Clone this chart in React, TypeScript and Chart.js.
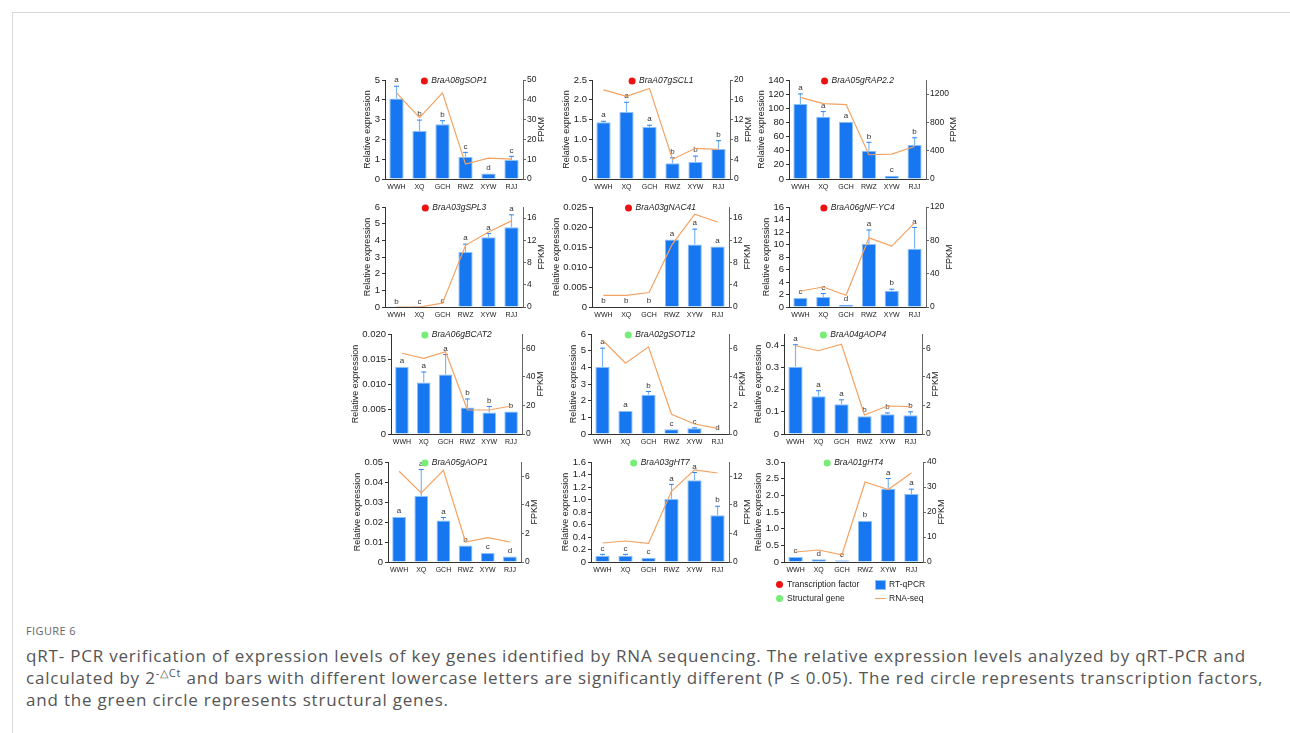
import React, { useEffect, useRef } from "react";
import { Chart, registerables } from "chart.js";
Chart.register(...registerables);

// ---------- data ----------
const categories = ["WWH", "XQ", "GCH", "RWZ", "XYW", "RJJ"];
const geneNames = [
  "BraA08gSOP1", "BraA07gSCL1", "BraA05gRAP2.2",
  "BraA03gSPL3", "BraA03gNAC41", "BraA06gNF-YC4",
  "BraA06gBCAT2", "BraA02gSOT12", "BraA04gAOP4",
  "BraA05gAOP1", "BraA03gHT7", "BraA01gHT4",
];
const geneTypes = ["tf", "tf", "tf", "tf", "tf", "tf", "sg", "sg", "sg", "sg", "sg", "sg"];

const qpcrMeans = [
  [4.07, 2.42, 2.76, 1.12, 0.28, 0.96],
  [1.43, 1.69, 1.31, 0.4, 0.43, 0.76],
  [106, 88, 81, 40, 4.7, 48],
  [0.01, 0.005, 0.02, 3.3, 4.18, 4.78],
  [0.0001, 0.0001, 0.0001, 0.0169, 0.0156, 0.0151],
  [1.44, 1.6, 0.37, 10.08, 2.6, 9.33],
  [0.0134, 0.0103, 0.0119, 0.0053, 0.0043, 0.0045],
  [4.02, 1.38, 2.36, 0.28, 0.34, 0.02],
  [0.303, 0.17, 0.134, 0.08, 0.089, 0.084],
  [0.0225, 0.033, 0.0208, 0.0083, 0.0045, 0.0028],
  [0.1, 0.1, 0.07, 1.01, 1.31, 0.75],
  [0.15, 0.08, 0.05, 1.23, 2.2, 2.04],
];
const qpcrErrorTops = [
  [4.71, 3.0, 2.97, 1.37, 0.31, 1.17],
  [1.47, 1.95, 1.37, 0.55, 0.59, 0.98],
  [121, 96, 82, 52.6, 4.7, 59],
  [0.01, 0.005, 0.02, 3.8, 4.44, 5.56],
  [0.0001, 0.0001, 0.0001, 0.0169, 0.0196, 0.0152],
  [1.5, 2.24, 0.4, 12.4, 2.93, 12.8],
  [0.0135, 0.0125, 0.016, 0.0071, 0.0056, 0.0046],
  [5.18, 1.44, 2.58, 0.28, 0.4, 0.02],
  [0.404, 0.197, 0.156, 0.082, 0.097, 0.102],
  [0.0227, 0.0465, 0.0225, 0.0085, 0.0047, 0.003],
  [0.13, 0.13, 0.08, 1.25, 1.44, 0.9],
  [0.16, 0.09, 0.05, 1.25, 2.52, 2.2],
];
const sigLetters = [
  ["a", "b", "b", "c", "d", "c"],
  ["a", "a", "a", "b", "b", "b"],
  ["a", "a", "a", "b", "c", "b"],
  ["b", "c", "c", "a", "a", "a"],
  ["b", "b", "b", "a", "a", "a"],
  ["c", "c", "d", "a", "b", "a"],
  ["a", "a", "a", "b", "b", "b"],
  ["a", "a", "b", "c", "c", "d"],
  ["a", "a", "a", "b", "b", "b"],
  ["a", "a", "a", "b", "c", "d"],
  ["c", "c", "c", "a", "a", "b"],
  ["c", "d", "e", "b", "a", "a"],
];
const fpkmValues = [
  [43.5, 31, 43.5, 7.5, 10.5, 10],
  [18, 16.7, 18.3, 4.0, 6.2, 6.0],
  [1155, 1066, 1052, 343, 352, 460],
  [0, 0, 0.7, 11.1, 13.5, 15.5],
  [2.1, 2.1, 2.6, 11.2, 16.7, 15.3],
  [19.2, 24, 14, 83, 73, 101],
  [56.5, 53, 57.6, 16.8, 16.8, 19.6],
  [6.58, 4.95, 6.1, 1.38, 0.7, 0.4],
  [6.18, 5.83, 6.28, 1.33, 1.96, 1.91],
  [6.35, 4.83, 6.42, 1.4, 1.7, 1.4],
  [2.66, 2.94, 2.6, 9.9, 12.9, 12.46],
  [4, 4.8, 2.9, 32, 29, 35.6],
];
const leftTickLabels = [
  ["0", "1", "2", "3", "4", "5"],
  ["0", "0.5", "1.0", "1.5", "2.0", "2.5"],
  ["0", "20", "40", "60", "80", "100", "120", "140"],
  ["0", "1", "2", "3", "4", "5", "6"],
  ["0", "0.005", "0.010", "0.015", "0.020", "0.025"],
  ["0", "2", "4", "6", "8", "10", "12", "14", "16"],
  ["0", "0.005", "0.010", "0.015", "0.020"],
  ["0", "1", "2", "3", "4", "5", "6"],
  ["0", "0.1", "0.2", "0.3", "0.4"],
  ["0", "0.01", "0.02", "0.03", "0.04", "0.05"],
  ["0", "0.2", "0.4", "0.6", "0.8", "1.0", "1.2", "1.4", "1.6"],
  ["0", "0.5", "1.0", "1.5", "2.0", "2.5", "3.0"],
];
const leftMax = [5, 2.5, 140, 6, 0.025, 16, 0.02, 6, 0.45, 0.05, 1.6, 3];
const rightTickLabels = [
  ["0", "10", "20", "30", "40", "50"],
  ["0", "4", "8", "12", "16", "20"],
  ["0", "400", "800", "1200"],
  ["0", "4", "8", "12", "16"],
  ["0", "4", "8", "12", "16"],
  ["0", "40", "80", "120"],
  ["0", "20", "40", "60"],
  ["0", "2", "4", "6"],
  ["0", "2", "4", "6"],
  ["0", "2", "4", "6"],
  ["0", "4", "8", "12"],
  ["0", "10", "20", "30", "40"],
];
const rightMax = [50, 20, 1400, 18, 18, 120, 70, 7, 7, 7, 14, 40];

// ---------- layout (page px): plot area left, right, top, bottom ----------
const plotRects = [
  [385, 523, 80, 179], [592, 730, 80, 179], [789, 926, 80, 179],
  [385, 523, 207, 307], [592, 729, 207, 307], [789, 926, 207, 307],
  [391, 522, 334, 434], [591, 729, 334, 434], [784, 922, 334, 434],
  [388, 521, 462, 562], [591, 729, 462, 562], [784, 923, 462, 562],
];
const WL = 48, WR = 40, PT = 12, HX = 14;
const FONT = '"Liberation Sans", Arial, Helvetica, sans-serif';
const LEFT_TICK_SIZE = 9.5;
const RIGHT_TICK_SIZE = 8.5;
const BLUE = "#1677f0";
const BLUE_EDGE = "#8cc0f8";
const ORANGE = "#f4a261";
const RED = "#ee1111";
const GREEN = "#74ee74";

const decorPlugin = {
  id: "panelDecor",
  afterDatasetDraw(chart: any, args: any) {
    if (args.meta.type !== "bar") return;
    const idx = chart.options.plugins.panelDecor.idx;
    const ctx = chart.ctx;
    const y = chart.scales.y;
    ctx.save();
    args.meta.data.forEach((el: any, i: number) => {
      const x = el.x;
      const top = y.getPixelForValue(qpcrMeans[idx][i]);
      const e = y.getPixelForValue(qpcrErrorTops[idx][i]);
      if (top - e > 1) {
        ctx.strokeStyle = "#7fb6f6";
        ctx.lineWidth = 1.2;
        ctx.beginPath();
        ctx.moveTo(x, top);
        ctx.lineTo(x, e);
        ctx.stroke();
        ctx.strokeStyle = "#2f86f2";
        ctx.lineWidth = 1;
        ctx.beginPath();
        ctx.moveTo(x - 2.5, e + 0.5);
        ctx.lineTo(x + 2.5, e + 0.5);
        ctx.stroke();
      }
      ctx.fillStyle = "#333";
      ctx.font = `8px ${FONT}`;
      ctx.textAlign = "center";
      ctx.textBaseline = "bottom";
      ctx.fillText(sigLetters[idx][i], x, Math.min(top, e) - 1.5);
    });
    ctx.restore();
  },
  afterDraw(chart: any) {
    const idx = chart.options.plugins.panelDecor.idx;
    const ctx = chart.ctx;
    const ca = chart.chartArea;
    ctx.save();
    // gene title
    const name = geneNames[idx];
    ctx.font = `italic 8.5px ${FONT}`;
    const tw = ctx.measureText(name).width;
    const r = 3.5, gap = 3.5;
    const total = 2 * r + gap + tw;
    const cx = (ca.left + ca.right) / 2;
    const cy = ca.top + 1;
    const sx = cx - total / 2;
    ctx.fillStyle = geneTypes[idx] === "tf" ? RED : GREEN;
    ctx.beginPath();
    ctx.arc(sx + r, cy, r, 0, Math.PI * 2);
    ctx.fill();
    ctx.fillStyle = "#222";
    ctx.textAlign = "left";
    ctx.textBaseline = "middle";
    ctx.fillText(name, sx + 2 * r + gap, cy);
    // axis titles
    ctx.font = `${LEFT_TICK_SIZE}px ${FONT}`;
    const lw = Math.max(...leftTickLabels[idx].map((s) => ctx.measureText(s).width));
    ctx.font = `${RIGHT_TICK_SIZE}px ${FONT}`;
    const rw = Math.max(...rightTickLabels[idx].map((s) => ctx.measureText(s).width));
    ctx.font = `9px ${FONT}`;
    ctx.fillStyle = "#222";
    ctx.textAlign = "center";
    ctx.textBaseline = "middle";
    const my = (ca.top + ca.bottom) / 2;
    ctx.save();
    ctx.translate(ca.left - (lw + 12), my);
    ctx.rotate(-Math.PI / 2);
    ctx.fillText("Relative expression", 0, 0);
    ctx.restore();
    ctx.save();
    ctx.translate(ca.right + rw + 9, my);
    ctx.rotate(-Math.PI / 2);
    ctx.fillText("FPKM", 0, 0);
    ctx.restore();
    ctx.restore();
  },
};

function Panel({ idx }: { idx: number }) {
  const ref = useRef<HTMLCanvasElement>(null);
  const [pl, pr, pt, pb] = plotRects[idx];
  const W = pr - pl + WL + WR;
  const H = pb - pt + PT + HX;
  useEffect(() => {
    const leftVals = leftTickLabels[idx].map(Number);
    const rightVals = rightTickLabels[idx].map(Number);
    const chart = new Chart(ref.current as HTMLCanvasElement, {
      type: "bar",
      data: {
        labels: categories,
        datasets: [
          {
            type: "line",
            data: fpkmValues[idx],
            yAxisID: "y1",
            borderColor: ORANGE,
            borderWidth: 1.2,
            pointRadius: 0,
            tension: 0,
            order: 0,
          } as any,
          {
            type: "bar",
            data: qpcrMeans[idx],
            yAxisID: "y",
            backgroundColor: BLUE,
            borderColor: BLUE_EDGE,
            borderWidth: 1,
            barPercentage: 0.62,
            categoryPercentage: 1,
            order: 1,
          } as any,
        ],
      },
      options: {
        animation: false,
        responsive: false,
        events: [],
        layout: { padding: { top: PT, left: 0, right: 0, bottom: 0 } },
        plugins: {
          legend: { display: false },
          tooltip: { enabled: false },
          panelDecor: { idx },
        } as any,
        scales: {
          x: {
            offset: true,
            grid: { display: false, drawTicks: true, tickLength: 2 },
            border: { display: true, color: "#333", width: 1 },
            ticks: { font: { family: FONT, size: 7 }, color: "#222", padding: 2, maxRotation: 0, autoSkip: false },
            afterFit: (s: any) => { s.height = HX; },
          },
          y: {
            position: "left",
            min: 0,
            max: leftMax[idx],
            afterBuildTicks: (s: any) => { s.ticks = leftVals.map((v) => ({ value: v })); },
            ticks: {
              callback: (_v: any, i: number) => leftTickLabels[idx][i],
              font: { family: FONT, size: LEFT_TICK_SIZE },
              color: "#222",
              padding: 2,
              autoSkip: false,
            },
            grid: { drawOnChartArea: false, drawTicks: true, tickLength: 3, color: "#333" },
            border: { display: true, color: "#333", width: 1 },
            afterFit: (s: any) => { s.width = WL; },
          },
          y1: {
            position: "right",
            min: 0,
            max: rightMax[idx],
            afterBuildTicks: (s: any) => { s.ticks = rightVals.map((v) => ({ value: v })); },
            ticks: {
              callback: (_v: any, i: number) => rightTickLabels[idx][i],
              font: { family: FONT, size: RIGHT_TICK_SIZE },
              color: "#222",
              padding: 1,
              autoSkip: false,
            },
            grid: { drawOnChartArea: false, drawTicks: true, tickLength: 3, color: "#666" },
            border: { display: true, color: "#666", width: 1 },
            afterFit: (s: any) => { s.width = WR; },
          },
        } as any,
      },
      plugins: [decorPlugin],
    });
    return () => chart.destroy();
  }, [idx]);
  return (
    <canvas
      ref={ref}
      width={W}
      height={H}
      style={{ position: "absolute", left: pl - WL, top: pt - PT, width: W, height: H }}
    />
  );
}

const legendText: React.CSSProperties = {
  position: "absolute",
  fontFamily: FONT,
  fontSize: 8.5,
  color: "#222",
  lineHeight: "10px",
  whiteSpace: "nowrap",
};

const captionFont = '"Open Sans", "Noto Sans", sans-serif';

export default function App() {
  return (
    <div style={{ position: "absolute", left: 0, top: 0, width: 1290, height: 733, background: "#fff", overflow: "hidden" }}>
      <div style={{ position: "absolute", left: 12, top: 12, width: 1290, height: 760, borderTop: "1px solid #d9d9d9", borderLeft: "1px solid #d9d9d9" }} />
      {plotRects.map((_, i) => (
        <Panel key={i} idx={i} />
      ))}
      {/* legend */}
      <div style={{ position: "absolute", left: 775.5, top: 580.5, width: 7, height: 7, borderRadius: "50%", background: RED }} />
      <div style={{ ...legendText, left: 787, top: 579 }}>Transcription factor</div>
      <div style={{ position: "absolute", left: 775.5, top: 594.5, width: 7, height: 7, borderRadius: "50%", background: GREEN }} />
      <div style={{ ...legendText, left: 787, top: 593 }}>Structural gene</div>
      <div style={{ position: "absolute", left: 875, top: 580, width: 9, height: 8, background: BLUE, border: `1px solid ${BLUE_EDGE}` }} />
      <div style={{ ...legendText, left: 889, top: 579 }}>RT-qPCR</div>
      <div style={{ position: "absolute", left: 875, top: 597.5, width: 11, height: 1.2, background: ORANGE }} />
      <div style={{ ...legendText, left: 889, top: 593 }}>RNA-seq</div>
      {/* caption */}
      <div style={{ position: "absolute", left: 26, top: 623, fontFamily: captionFont, fontSize: 11, color: "#666", letterSpacing: 0.4 }}>
        FIGURE 6
      </div>
      <div style={{ position: "absolute", left: 26, top: 645, fontFamily: captionFont, fontSize: 17, letterSpacing: 0.8, lineHeight: "22px", color: "#555", whiteSpace: "nowrap" }}>
        <div>qRT- PCR verification of expression levels of key genes identified by RNA sequencing. The relative expression levels analyzed by qRT-PCR and</div>
        <div>
          calculated by 2<sup style={{ fontSize: "0.65em", lineHeight: 0 }}>-△Ct</sup> and bars with different lowercase letters are significantly different (P ≤ 0.05). The red circle represents transcription factors,
        </div>
        <div>and the green circle represents structural genes.</div>
      </div>
    </div>
  );
}
